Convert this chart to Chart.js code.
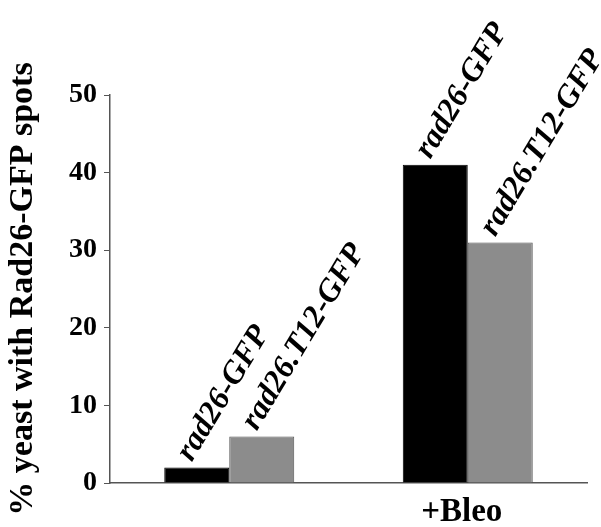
<!DOCTYPE html>
<html>
<head>
<meta charset="utf-8">
<script src="https://cdn.jsdelivr.net/npm/chart.js@4/dist/chart.umd.min.js"></script>
<style>
  html, body { margin: 0; padding: 0; background: #fff; }
  #wrap { width: 601px; height: 527px; }
</style>
</head>
<body>
<div id="wrap"><canvas id="chart" width="601" height="527"></canvas></div>
<script>
const categories = ['', '+Bleo'];
const seriesNames = ['rad26-GFP', 'rad26.T12-GFP'];
const wildType = [2, 41];
const mutantT12 = [6, 31];
const yTicks = [0, 10, 20, 30, 40, 50];

const serif = "'Liberation Serif', 'Times New Roman', serif";

// angled series names sitting on top of each bar
const barLabels = {
    id: 'barLabels',
    afterDatasetsDraw(chart) {
        const ctx = chart.ctx;
        ctx.save();
        ctx.font = 'italic bold 32px ' + serif;
        ctx.fillStyle = '#000';
        ctx.textAlign = 'left';
        ctx.textBaseline = 'alphabetic';
        chart.data.datasets.forEach((ds, i) => {
            chart.getDatasetMeta(i).data.forEach(bar => {
                ctx.save();
                ctx.translate(bar.x - 5, bar.y - 5);
                ctx.rotate(-59 * Math.PI / 180);
                ctx.fillText(ds.label, 0, 0);
                ctx.restore();
            });
        });
        ctx.restore();
    }
};

new Chart(document.getElementById('chart'), {
    type: 'bar',
    data: {
        labels: categories,
        datasets: [
            {
                label: seriesNames[0],
                data: wildType,
                backgroundColor: '#000',
                borderColor: '#000',
                borderWidth: 1
            },
            {
                label: seriesNames[1],
                data: mutantT12,
                backgroundColor: '#8c8c8c',
                borderColor: '#555',
                borderWidth: 1
            }
        ]
    },
    options: {
        responsive: false,
        animation: false,
        layout: { padding: { top: 95, right: 14, left: 0, bottom: 0 } },
        plugins: {
            legend: { display: false },
            tooltip: { enabled: false }
        },
        datasets: {
            bar: { barPercentage: 1, categoryPercentage: 0.545 }
        },
        scales: {
            x: {
                grid: { display: false },
                border: { display: true, color: '#555', width: 1.5 },
                ticks: {
                    color: '#000',
                    font: { family: serif, size: 33, weight: 'bold' },
                    padding: 2,
                    labelOffset: -6
                },
                afterFit(scale) { scale.height = 44; }
            },
            y: {
                min: 0,
                max: 50,
                afterBuildTicks(scale) {
                    scale.ticks = yTicks.map(v => ({ value: v }));
                },
                grid: {
                    drawOnChartArea: false,
                    drawTicks: true,
                    tickLength: 6,
                    color: '#555'
                },
                border: { display: true, color: '#555', width: 1.5 },
                ticks: {
                    color: '#000',
                    font: { family: serif, size: 28, weight: 'bold' },
                    padding: 7
                },
                title: {
                    display: true,
                    text: '% yeast with Rad26-GFP spots',
                    color: '#000',
                    font: { family: serif, size: 34, weight: 'bold' },
                    padding: { top: 3, bottom: 0 }
                },
                afterFit(scale) { scale.width = 110; }
            }
        }
    },
    plugins: [barLabels]
});
</script>
</body>
</html>
